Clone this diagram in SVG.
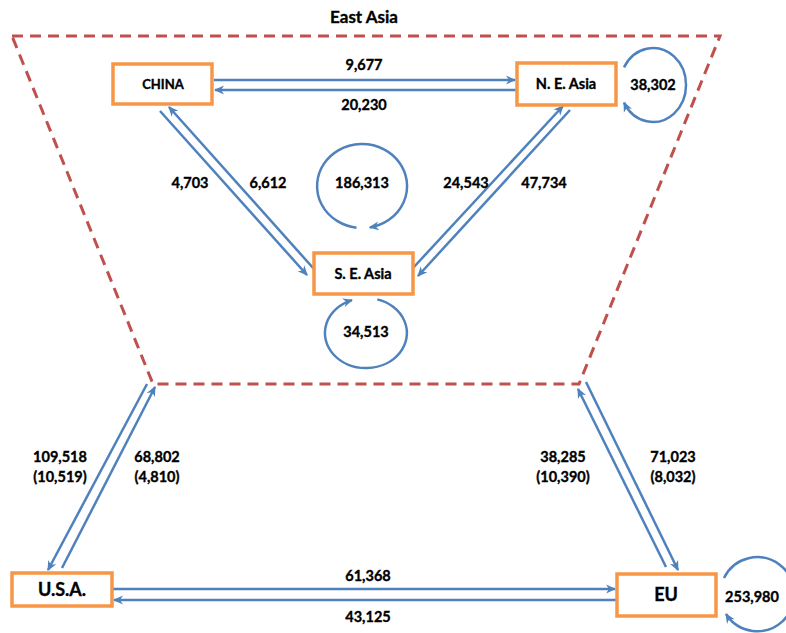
<svg xmlns="http://www.w3.org/2000/svg" width="786" height="633" viewBox="0 0 786 633">
<style>
.node rect{fill:#fff;stroke:#F79646;stroke-width:3.5}
.c{fill:none;stroke:#4F81BD;stroke-width:2.5;marker-end:url(#ah)}
text{font-family:Lato,"Liberation Sans",sans-serif;font-weight:bold;fill:#000;stroke:#000;stroke-width:0.35;text-anchor:middle}
.lbl{font-size:14.5px}
.big{font-size:18px}
.region{fill:none;stroke:#C0504D;stroke-width:3;stroke-dasharray:11,7}
</style>
<defs>
<marker id="ah" viewBox="0 0 10 10" refX="9" refY="5" markerWidth="10" markerHeight="10" markerUnits="userSpaceOnUse" orient="auto">
<path d="M0,0.5 L10,5 L0,9.5 L3,5 z" fill="#4F81BD"/>
</marker>
</defs>
<g id="east-asia-region">
<path class="region" d="M12,36 L720,36 L579,384 L153,384 Z"/>
<text x="364" y="23" style="font-size:17px">East Asia</text>
</g>
<g id="connectors">
<path class="c" d="M214,80 H515"/>
<path class="c" d="M516,90 H215"/>
<path class="c" d="M160,111 L307,275"/>
<path class="c" d="M314,269 L169,107"/>
<path class="c" d="M413,268 L563,106"/>
<path class="c" d="M570,110 L418,276"/>
<path class="c" d="M624,67.4 A33,37 0 1 1 624,102.6"/>
<path class="c" d="M356.5,227.7 A45,42 0 1 1 369.8,227.4"/>
<path class="c" d="M377.3,299.4 A41,35 0 1 1 352,300.1"/>
<path class="c" d="M724,578 A37,37 0 1 1 726,614"/>
<path class="c" d="M147,384 L48,570"/>
<path class="c" d="M62,568 L155,387"/>
<path class="c" d="M666,567 L578,389"/>
<path class="c" d="M586,382 L678,570"/>
<path class="c" d="M113,589 H615"/>
<path class="c" d="M616,600 H114"/>
</g>
<g id="labels">
<text class="lbl" x="364" y="70">9,677</text>
<text class="lbl" x="364" y="110">20,230</text>
<text class="lbl" x="190" y="188">4,703</text>
<text class="lbl" x="268" y="188">6,612</text>
<text class="lbl" x="466" y="188">24,543</text>
<text class="lbl" x="544" y="188">47,734</text>
<text class="lbl" x="362" y="188">186,313</text>
<text class="lbl" x="653" y="90">38,302</text>
<text class="lbl" x="366" y="337">34,513</text>
<text class="lbl" x="752" y="602">253,980</text>
<text class="lbl" x="60" y="462">109,518</text>
<text class="lbl" x="60" y="482">(10,519)</text>
<text class="lbl" x="157" y="462">68,802</text>
<text class="lbl" x="157" y="482">(4,810)</text>
<text class="lbl" x="563" y="462">38,285</text>
<text class="lbl" x="563" y="482">(10,390)</text>
<text class="lbl" x="673" y="462">71,023</text>
<text class="lbl" x="673" y="482">(8,032)</text>
<text class="lbl" x="368" y="581">61,368</text>
<text class="lbl" x="368" y="622">43,125</text>
</g>
<g id="china" class="node">
<rect x="113" y="64" width="99" height="40"/>
<text x="163" y="89" style="font-size:13px">CHINA</text>
</g>
<g id="ne-asia" class="node">
<rect x="517" y="63" width="99" height="42"/>
<text x="566" y="89" class="lbl">N. E. Asia</text>
</g>
<g id="se-asia" class="node">
<rect x="314" y="253" width="99" height="41"/>
<text x="363" y="279" class="lbl">S. E. Asia</text>
</g>
<g id="usa" class="node">
<rect x="12" y="573" width="100" height="33"/>
<text x="62" y="596" class="big">U.S.A.</text>
</g>
<g id="eu" class="node">
<rect x="617" y="574" width="99" height="42"/>
<text x="666" y="601" class="big">EU</text>
</g>
</svg>
